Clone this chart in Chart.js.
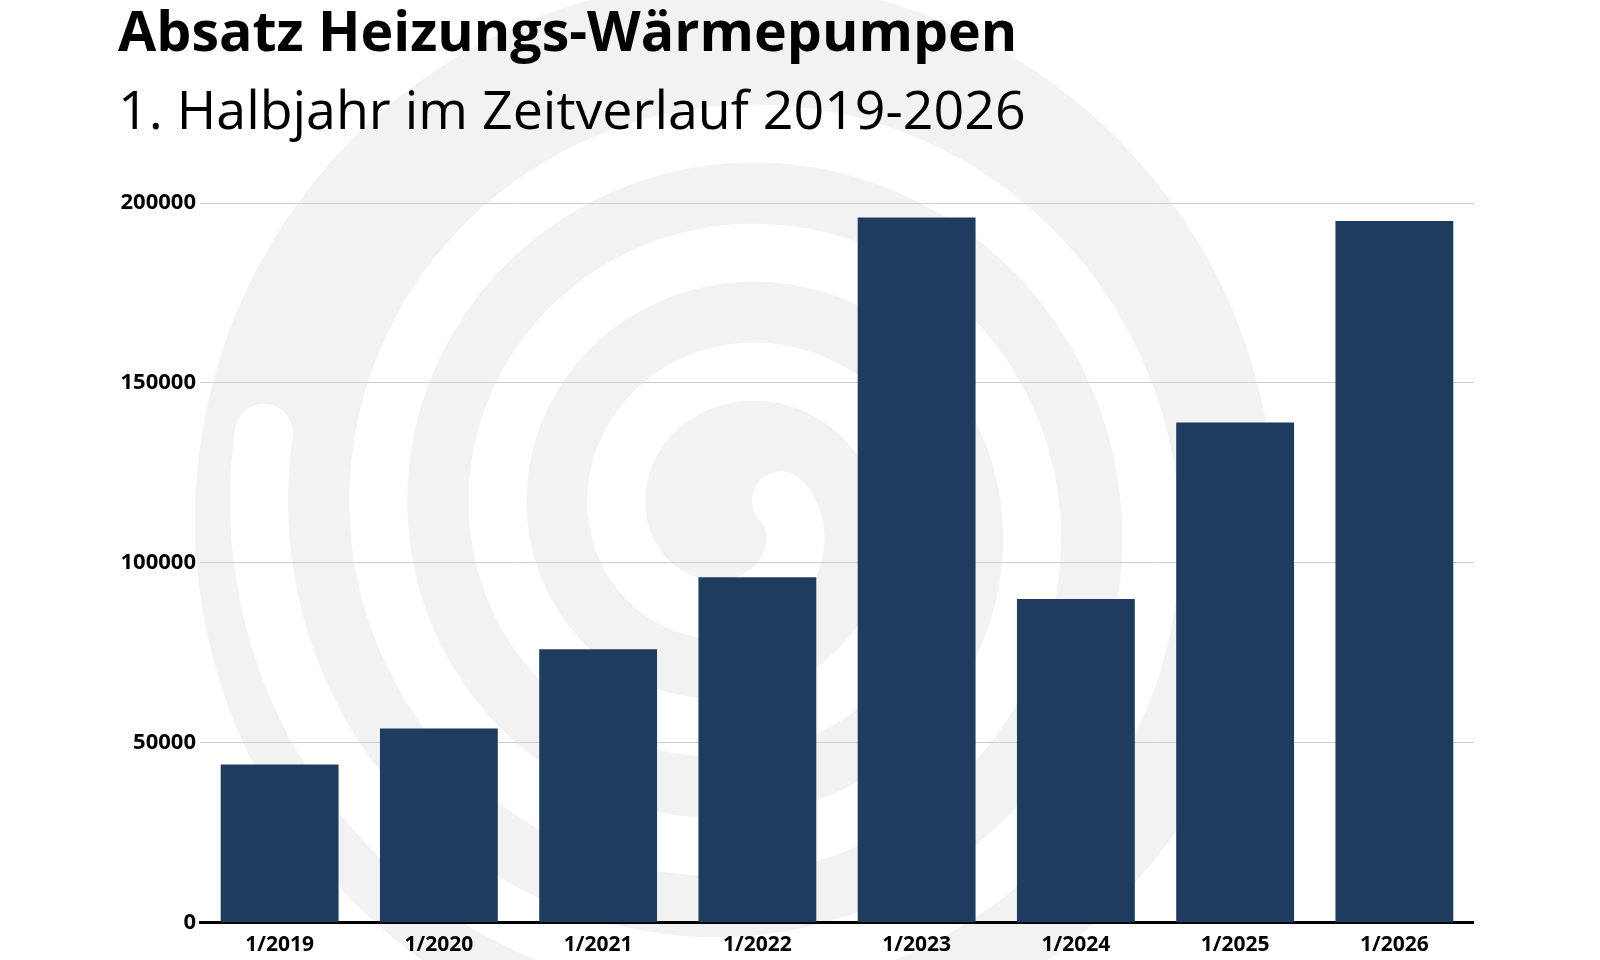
<!DOCTYPE html>
<html><head><meta charset="utf-8">
<script src="https://cdn.jsdelivr.net/npm/chart.js@4"></script>
<style>
body{margin:0;background:#fff;width:1600px;height:960px;overflow:hidden;font-family:"Open Sans",sans-serif;}
#bg{position:absolute;left:0;top:0}
h1{position:absolute;left:118px;top:-8px;margin:0;font-size:55.5px;font-weight:700;color:#000;}
h2{position:absolute;left:118px;top:72px;margin:0;font-size:53.7px;font-weight:400;color:#000;}
#wrap{position:absolute;left:115px;top:183px;width:1359px;height:777px;}
</style></head><body>
<canvas id="bg" width="1600" height="960"></canvas>
<h1>Absatz Heizungs-Wärmepumpen</h1>
<h2>1. Halbjahr im Zeitverlauf 2019-2026</h2>
<div id="wrap"><canvas id="c"></canvas></div>
<script>
const categories=["1/2019","1/2020","1/2021","1/2022","1/2023","1/2024","1/2025","1/2026"];
const values=[44000,54000,76000,96000,196000,90000,139000,195000];
const tickValues=[0,50000,100000,150000,200000];

const g=document.getElementById('bg').getContext('2d');
g.fillStyle='#f2f2f2';g.beginPath();g.arc(735,520,540,0,Math.PI*2);g.fill();
g.strokeStyle='#fff';g.lineWidth=58;g.lineCap='round';g.beginPath();
for(let t=0;t<=1;t+=0.002){const a=-0.4+t*Math.PI*2*3.6;const r=50+t*430;const x=735+r*Math.cos(a),y=520+r*Math.sin(a);t?g.lineTo(x,y):g.moveTo(x,y);}
g.stroke();

new Chart(document.getElementById('c'),{type:'bar',
data:{labels:categories,datasets:[{data:values,backgroundColor:'#1e3d5e',categoryPercentage:0.74,barPercentage:1}]},
options:{responsive:true,maintainAspectRatio:false,animation:false,
plugins:{legend:{display:false},tooltip:{enabled:false}},
layout:{padding:{top:20}},
scales:{
x:{grid:{display:false},border:{display:true,color:'#000',width:3},ticks:{color:'#000',font:{family:'Open Sans',size:21,weight:'bold'},padding:2}},
y:{min:0,max:200000,afterBuildTicks:a=>{a.ticks=tickValues.map(v=>({value:v}));},afterFit:s=>{s.width=85;},border:{display:false},
grid:{color:'#d0d0d0',drawTicks:false},ticks:{color:'#000',padding:4,callback:v=>String(v),font:{family:'Open Sans',size:22,weight:'bold'}}}}}});
</script></body></html>
